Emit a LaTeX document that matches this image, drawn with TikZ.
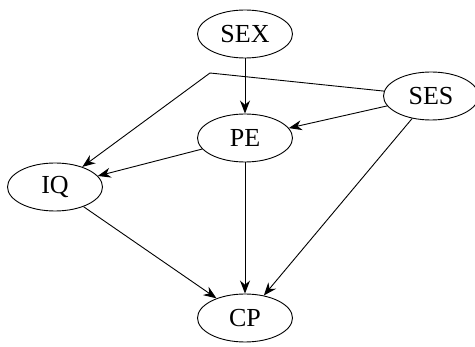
\documentclass[tikz,border=0pt]{standalone}
\usepackage{fontspec}
\setmainfont{Liberation Serif}
\usetikzlibrary{arrows.meta,shapes.geometric}
\begin{document}
\begin{tikzpicture}[x=1pt,y=-1pt,
  var/.style={ellipse,draw,line width=0.9pt,minimum width=95pt,minimum height=48pt,inner sep=0pt,font=\fontsize{26}{28}\selectfont},
  arr/.style={-{Stealth[length=13pt,width=10pt]},line width=0.9pt}]
\useasboundingbox (0,0) rectangle (475,347);
\node[var] (SEX) at (245,34) {SEX};
\node[var] (SES) at (431,96) {SES};
\node[var] (PE) at (245,138) {PE};
\node[var] (IQ) at (55,187) {IQ};
\node[var] (CP) at (245,318) {CP};
\coordinate (bend) at (210,73);
\draw[arr] (SEX) -- (PE);
\draw[arr] (SES) -- (PE);
\draw[arr] (SES) -- (bend) -- (IQ);
\draw[arr] (PE) -- (IQ);
\draw[arr] (PE) -- (CP);
\draw[arr] (IQ) -- (CP);
\draw[arr] (SES) -- (CP);
\end{tikzpicture}
\end{document}
